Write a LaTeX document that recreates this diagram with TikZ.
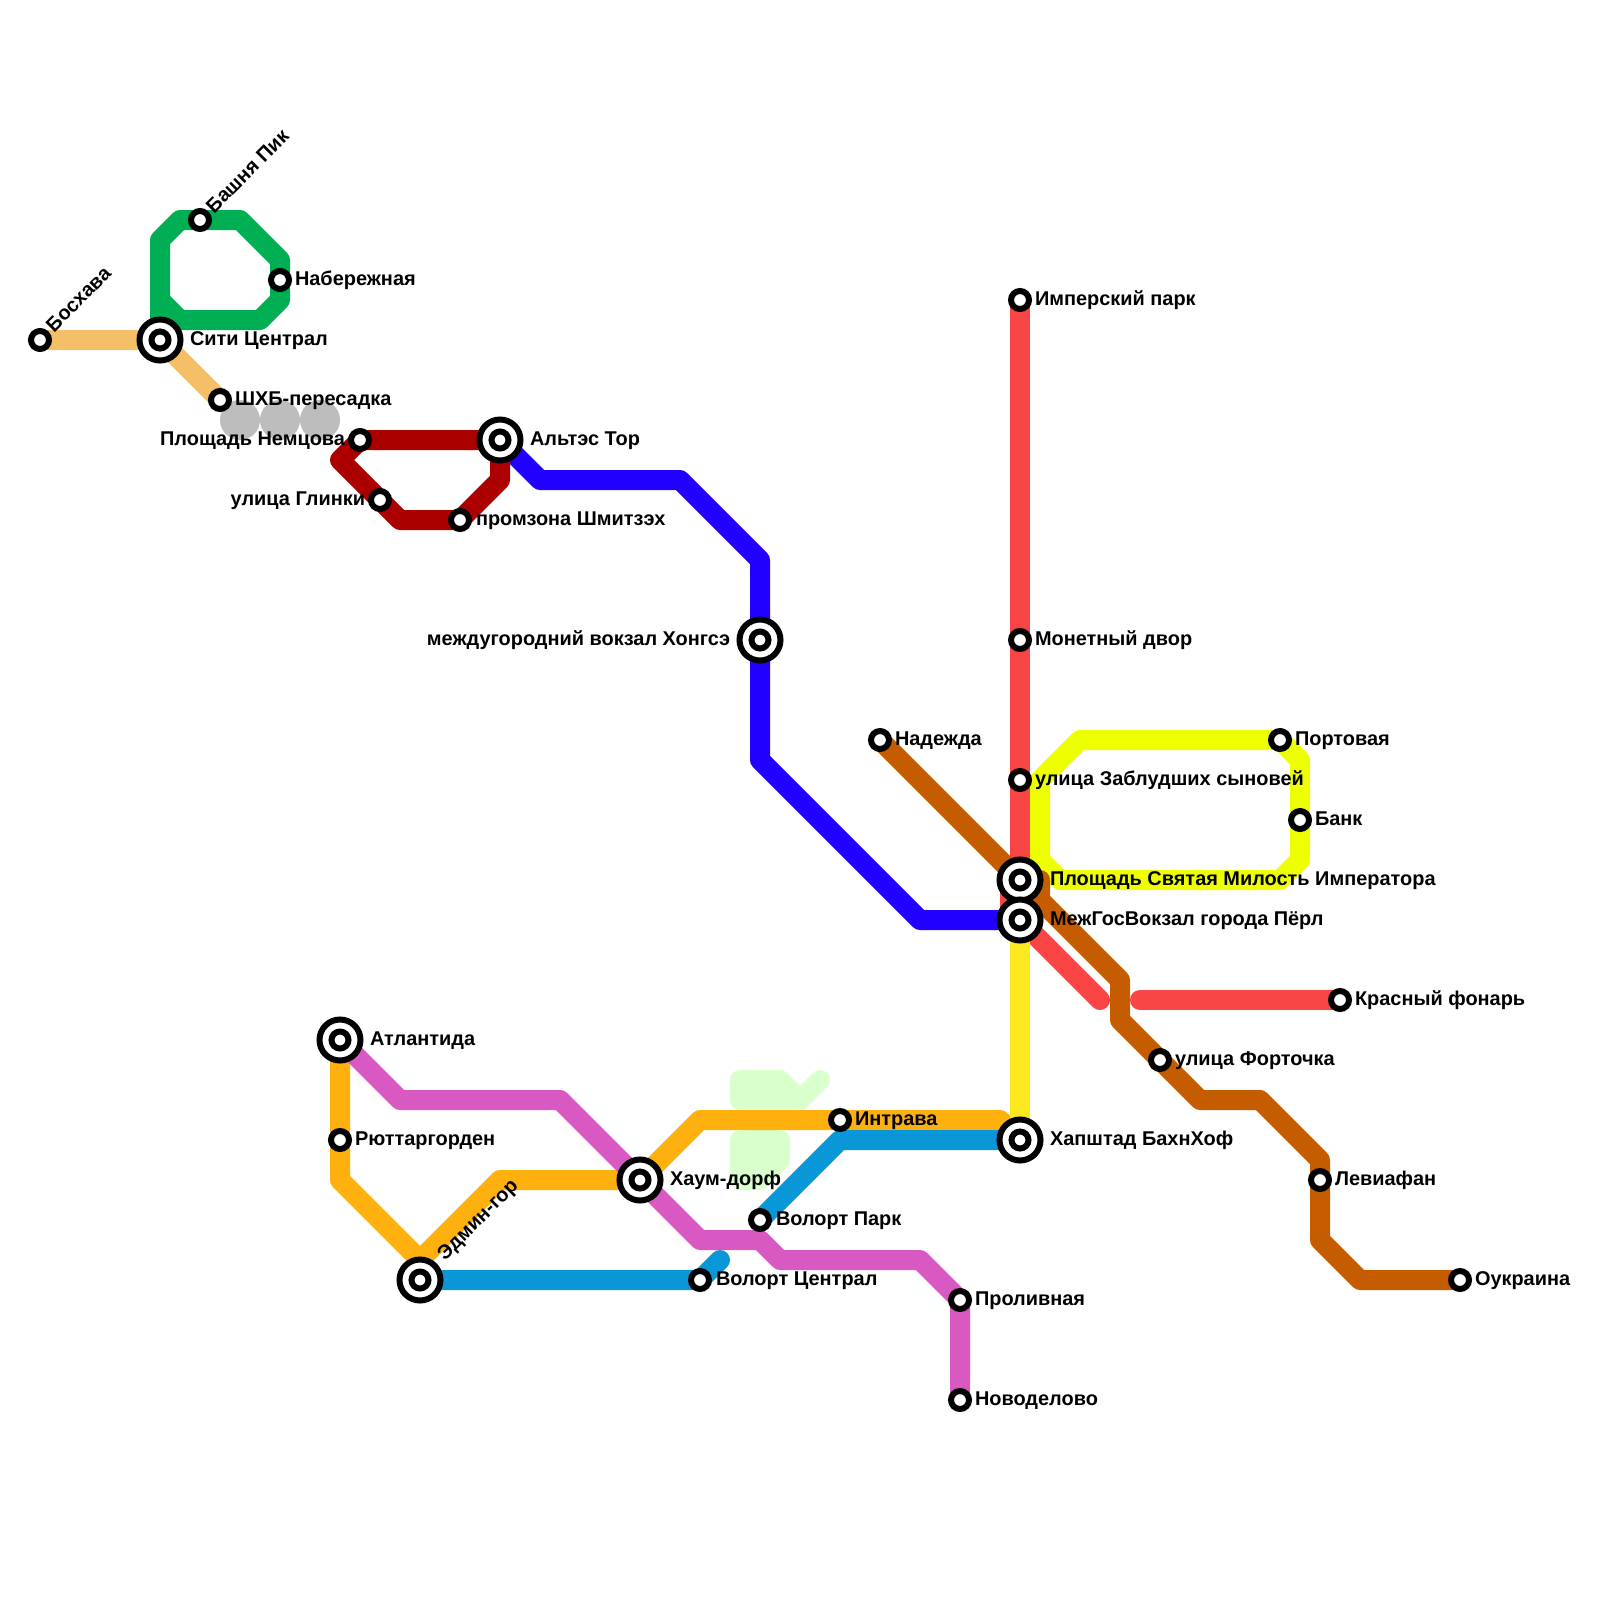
\documentclass[tikz,border=0pt]{standalone}
\usepackage{fontspec}
\setmainfont{Liberation Sans}
\usetikzlibrary{backgrounds}
\definecolor{csand}{HTML}{F4BF66}
\definecolor{cgreen}{HTML}{00AE54}
\definecolor{cdred}{HTML}{AC0000}
\definecolor{cblue}{HTML}{2200FF}
\definecolor{cred}{HTML}{F94545}
\definecolor{clime}{HTML}{EEFF00}
\definecolor{cbrown}{HTML}{C65C00}
\definecolor{cyell}{HTML}{FCE81E}
\definecolor{corange}{HTML}{FDB00E}
\definecolor{cpurple}{HTML}{D959C2}
\definecolor{ccyan}{HTML}{0A97D7}
\definecolor{cpale}{HTML}{D9FFCC}
\definecolor{cgray}{HTML}{BDBDBD}
\tikzset{
  mline/.style={line width=20bp,line join=round},
  rcap/.style={line cap=round},
  stop/.style={circle,draw=black,fill=white,line width=6bp,minimum size=18bp,inner sep=0pt,outer sep=0pt},
  hubo/.style={circle,draw=black,fill=white,line width=6bp,minimum size=41bp,inner sep=0pt,outer sep=0pt},
  hubi/.style={circle,draw=black,fill=white,line width=6bp,minimum size=17bp,inner sep=0pt,outer sep=0pt},
  lab/.style={inner sep=0pt,outer sep=0pt,font=\fontsize{20}{22}\selectfont\bfseries},
  lr/.style={lab,anchor=base west},
  ll/.style={lab,anchor=base east},
  ld/.style={lab,anchor=base west,rotate=45},
  zone/.style={circle,fill=cgray,minimum size=40bp,inner sep=0pt,outer sep=0pt},
}
\newcommand{\st}[2]{\node[stop] (#1) at (#2) {};}
\newcommand{\hb}[2]{\node[hubo] (#1) at (#2) {}; \node[hubi] (#1i) at (#2) {};}
\begin{document}
\begin{tikzpicture}[x=1bp,y=-1bp]
\useasboundingbox (0,0) rectangle (1600,1600);
% stations
\st{boskh}{40,340} \hb{siti}{160,340} \st{shkhb}{220,400} \st{bashnya}{200,220} \st{nab}{280,280}
\st{nemts}{360,440} \st{glinki}{380,500} \st{prom}{460,520} \hb{alt}{500,440}
\hb{hong}{760,640}
\st{imp}{1020,300} \st{monet}{1020,640} \st{zabl}{1020,780} \hb{pl}{1020,880} \hb{mezh}{1020,920}
\st{krasn}{1340,1000} \st{port}{1280,740} \st{bank}{1300,820}
\st{nad}{880,740} \st{fort}{1160,1060} \st{lev}{1320,1180} \st{ouk}{1460,1280}
\hb{khap}{1020,1140} \st{intr}{840,1120}
\hb{atl}{340,1040} \st{ryut}{340,1140} \hb{edm}{420,1280} \hb{haum}{640,1180}
\st{vcen}{700,1280} \st{vpark}{760,1220} \st{prol}{960,1300} \st{nov}{960,1400}
\coordinate (vend) at (720,1260);
\coordinate (rend) at (1100,1000);
\coordinate (rbeg) at (1140,1000);
\coordinate (pz1) at (820,1080);
\coordinate (pz2) at (780,1120);
% lines
\begin{pgfonlayer}{background}
\fill[white] (0,0) rectangle (1600,1600);
\draw[cpale,mline,fill=cpale] (740,1080) -- (780,1080) -- (800,1100) -- (740,1100) -- cycle;
\draw[cpale,mline,rcap] (pz1) -- (pz2);
\draw[cpale,mline,fill=cpale] (740,1140) -- (780,1140) -- (780,1160) -- (760,1180) -- (740,1180) -- cycle;
\node[zone] (z1) at (240,420) {};
\node[zone] (z2) at (280,420) {};
\node[zone] (z3) at (320,420) {};
\draw[csand,mline] (boskh.center) -- (siti.center) -- (shkhb.center);
\draw[cgreen,mline] (siti.center) -- (160,240) -- (180,220) -- (bashnya.center) -- (240,220) -- (280,260) -- (nab.center) -- (280,300) -- (260,320) -- (160,320);
\draw[cgreen,mline] (180,320) -- (160,300);
\draw[cblue,mline] (alt.center) -- (540,480) -- (680,480) -- (760,560) -- (hong.center) -- (760,760) -- (920,920) -- (mezh.center);
\draw[cdred,mline] (alt.center) -- (nemts.center) -- (340,460) -- (glinki.center) -- (400,520) -- (prom.center) -- (500,480) -- cycle;
\draw[cred,mline] (imp.center) -- (monet.center) -- (zabl.center) -- (pl.center) -- (mezh.center);
\fill[cred] (1000,890) rectangle (1040,910);
\draw[cred,mline,rcap] (mezh.center) -- (rend);
\draw[cred,mline,rcap] (rbeg) -- (krasn.center);
\draw[clime,mline] (1040,780) -- (1080,740) -- (port.center) -- (1300,760) -- (bank.center) -- (1300,860) -- (1280,880) -- (1060,880) -- (1040,860) -- cycle;
\draw[corange,mline] (atl.center) -- (ryut.center) -- (340,1180) -- (420,1260) -- (500,1180) -- (haum.center) -- (700,1120) -- (intr.center) -- (1000,1120) -- (khap.center);
\draw[ccyan,mline,rcap] (edm.center) -- (vcen.center) -- (vend);
\draw[ccyan,mline] (vpark.center) -- (840,1140) -- (khap.center);
\draw[cbrown,mline] (nad.center) -- (pl.center) -- (1040,880) -- (1040,900) -- (1120,980) -- (1120,1020) -- (fort.center) -- (1200,1100) -- (1260,1100) -- (1320,1160) -- (lev.center) -- (1320,1240) -- (1360,1280) -- (ouk.center);
\draw[cyell,mline] (mezh.center) -- (khap.center);
\draw[cpurple,mline] (atl.center) -- (400,1100) -- (560,1100) -- (haum.center) -- (700,1240) -- (760,1240) -- (780,1260) -- (920,1260) -- (prol.center) -- (nov.center);
\end{pgfonlayer}
% labels
\node[ld] (l1) at (54,333) {Босхава};
\node[ld] (l2) at (214,214) {Башня Пик};
\node[lr] (l3) at (295,285) {Набережная};
\node[lr] (l4) at (190,345) {Сити Централ};
\node[lr] (l5) at (235,405) {ШХБ-пересадка};
\node[ll] (l6) at (345,445) {Площадь Немцова};
\node[ll] (l7) at (365,505) {улица Глинки};
\node[lr] (l8) at (476,525) {промзона Шмитзэх};
\node[lr] (l9) at (530,445) {Альтэс Тор};
\node[ll] (l10) at (730,645) {междугородний вокзал Хонгсэ};
\node[lr] (l11) at (1035,305) {Имперский парк};
\node[lr] (l12) at (1035,645) {Монетный двор};
\node[lr] (l13) at (1035,785) {улица Заблудших сыновей};
\node[lr] (l14) at (1050,885) {Площадь Святая Милость Императора};
\node[lr] (l15) at (1050,925) {МежГосВокзал города Пёрл};
\node[lr] (l16) at (1355,1005) {Красный фонарь};
\node[lr] (l17) at (1295,745) {Портовая};
\node[lr] (l18) at (1315,825) {Банк};
\node[lr] (l19) at (895,745) {Надежда};
\node[lr] (l20) at (1175,1065) {улица Форточка};
\node[lr] (l21) at (1335,1185) {Левиафан};
\node[lr] (l22) at (1475,1285) {Оукраина};
\node[lr] (l23) at (1050,1145) {Хапштад БахнХоф};
\node[lr] (l24) at (855,1125) {Интрава};
\node[lr] (l25) at (370,1045) {Атлантида};
\node[lr] (l26) at (355,1145) {Рюттаргорден};
\node[ld] (l27) at (445,1261) {Эдмин-гор};
\node[lr] (l28) at (670,1185) {Хаум-дорф};
\node[lr] (l29) at (716,1285) {Волорт Централ};
\node[lr] (l30) at (776,1225) {Волорт Парк};
\node[lr] (l31) at (975,1305) {Проливная};
\node[lr] (l32) at (975,1405) {Новоделово};
\end{tikzpicture}
\end{document}
